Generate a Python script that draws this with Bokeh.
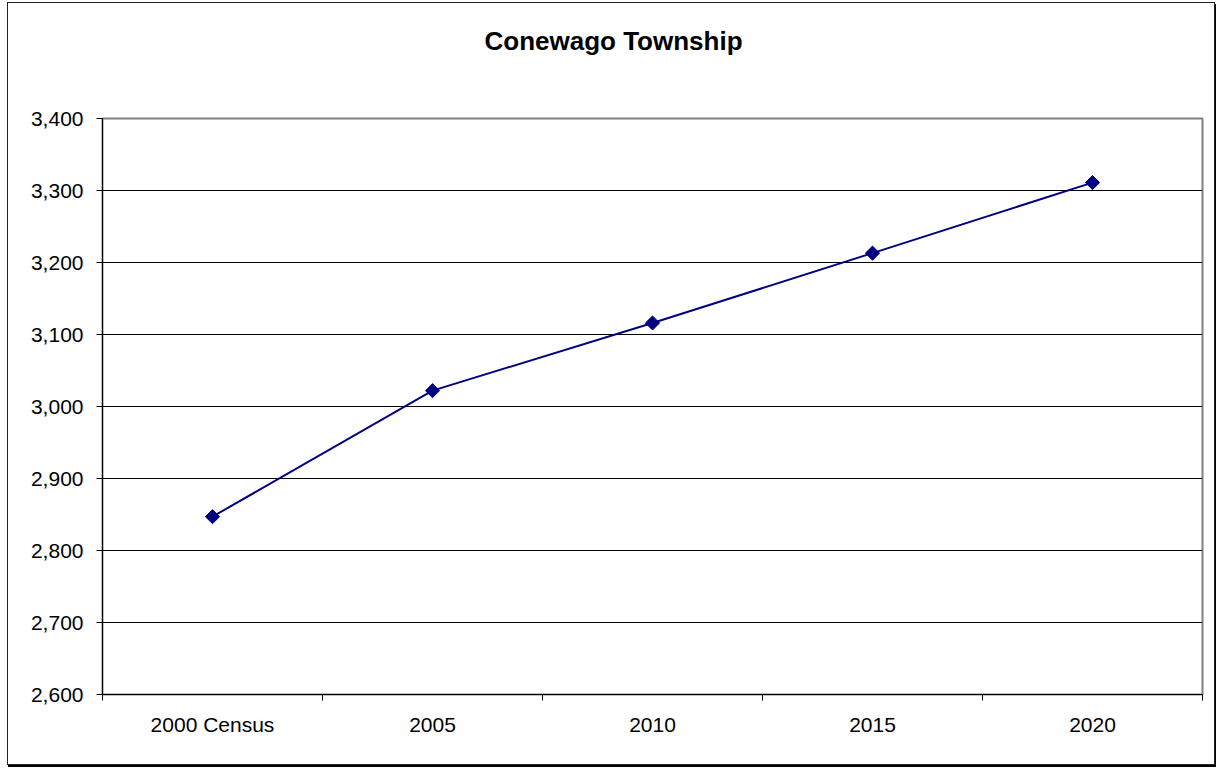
import numpy as np
from bokeh.plotting import figure
from bokeh.models import Range1d, FixedTicker, ColumnDataSource
from bokeh.embed import file_html
from bokeh.resources import INLINE

title_text = "Conewago Township"
categories = ["2000 Census", "2005", "2010", "2015", "2020"]
population = [2847, 3022, 3116, 3213, 3311]
y_ticks = [2600, 2700, 2800, 2900, 3000, 3100, 3200, 3300, 3400]

x_pos = [i + 0.5 for i in range(len(categories))]
boundaries = list(range(len(categories) + 1))

src = ColumnDataSource(dict(x=x_pos, y=population))

# two trailing empty lines lift the title well above the plot frame
p = figure(width=1208, height=763, output_backend="svg", toolbar_location=None,
           x_range=Range1d(0, len(categories)), y_range=Range1d(y_ticks[0], y_ticks[-1]),
           min_border_left=94, min_border_top=115, min_border_right=14, min_border_bottom=72,
           title=title_text + "\n\n")
p.styles = {"border": "1px solid #222222", "box-shadow": "1px 2px 0 black",
            "margin-left": "7px", "margin-top": "2px"}

p.title.align = "left"
p.title.offset = 382
p.title.standoff = 0
p.title.text_line_height = 1.05
p.title.text_font = "Liberation Sans"
p.title.text_font_size = "26px"
p.title.text_font_style = "bold"
p.title.text_color = "black"

p.outline_line_color = "#808080"
p.outline_line_width = 2

p.line("x", "y", source=src, line_color="#000080", line_width=2)
p.scatter("x", "y", source=src, marker="square", size=10, angle=np.pi / 4,
          fill_color="#000080", line_color="#000080")

# x axis
p.xaxis.ticker = FixedTicker(ticks=x_pos, minor_ticks=boundaries)
p.xaxis.major_label_overrides = {x: c for x, c in zip(x_pos, categories)}
p.xaxis.major_tick_line_color = None
p.xaxis.minor_tick_line_color = "black"
p.xaxis.minor_tick_out = 6
p.xaxis.minor_tick_in = 0
p.xaxis.axis_line_color = "black"
p.xaxis.major_label_text_font = "Liberation Sans"
p.xaxis.major_label_text_font_size = "21px"
p.xaxis.major_label_text_color = "black"
p.xaxis.major_label_standoff = 12

# y axis
p.yaxis.ticker = FixedTicker(ticks=y_ticks)
p.yaxis.major_label_overrides = {t: f"{t:,}" for t in y_ticks}
p.yaxis.major_tick_line_color = "black"
p.yaxis.major_tick_out = 6
p.yaxis.major_tick_in = 0
p.yaxis.minor_tick_line_color = None
p.yaxis.axis_line_color = "black"
p.yaxis.major_label_text_font = "Liberation Sans"
p.yaxis.major_label_text_font_size = "21px"
p.yaxis.major_label_text_color = "black"
p.yaxis.major_label_standoff = 13

p.xgrid.grid_line_color = None
p.ygrid.ticker = FixedTicker(ticks=y_ticks[1:-1])
p.ygrid.grid_line_color = "black"
p.ygrid.grid_line_width = 1

open("out.html", "w").write(file_html(p, INLINE))
